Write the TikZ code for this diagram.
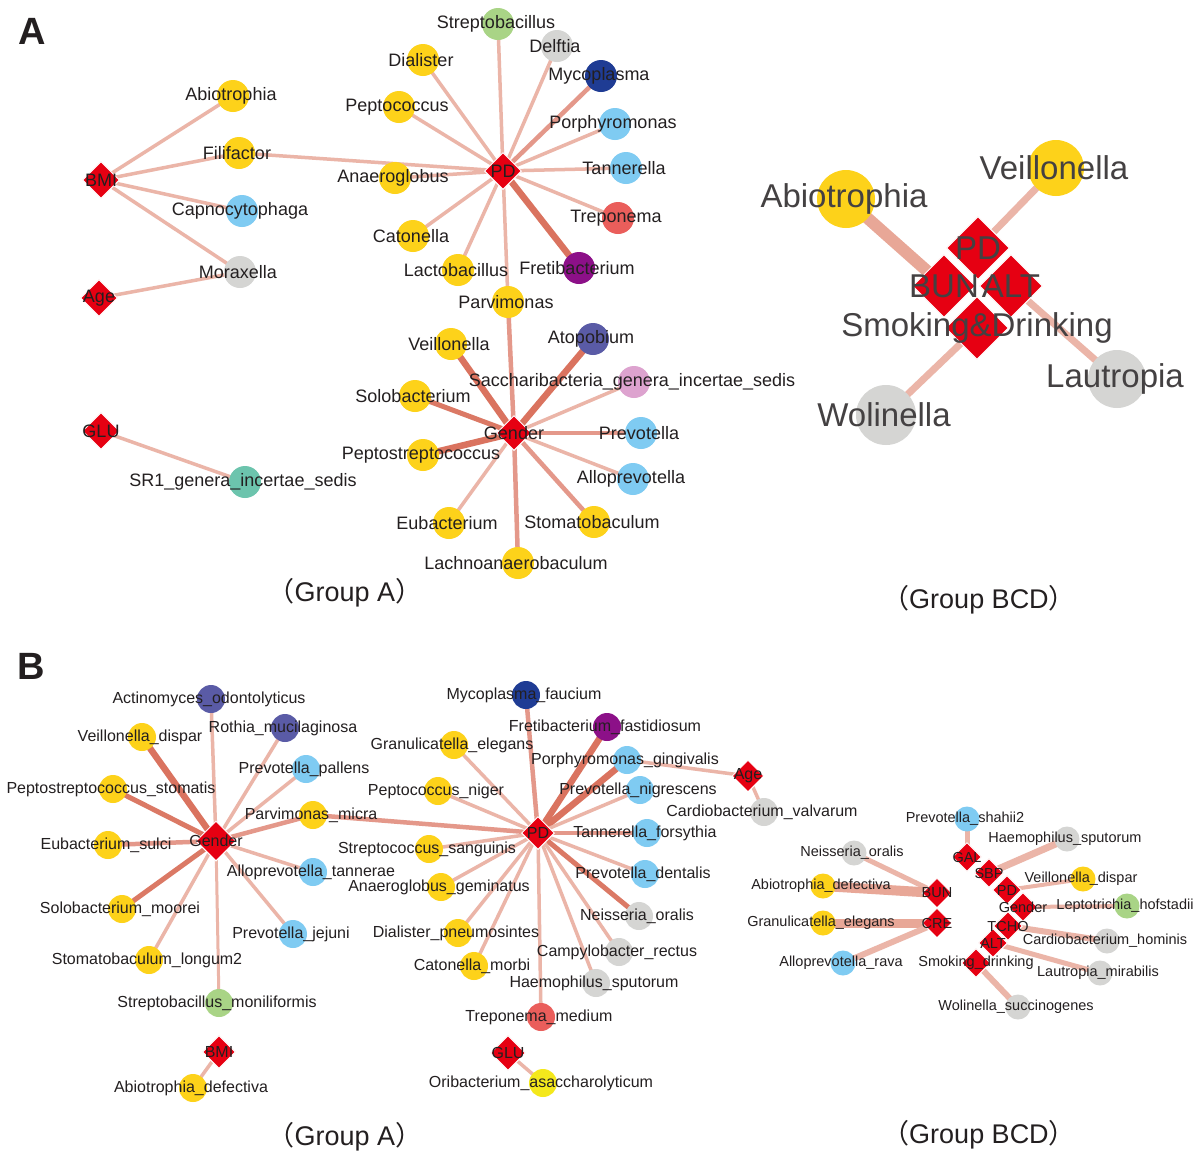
\documentclass[tikz,border=0pt]{standalone}
\usepackage{fontspec}
\setmainfont{Liberation Sans}
\newfontfamily\cjkf{Noto Sans CJK SC}
\usetikzlibrary{shapes.geometric}
\pgfdeclarelayer{paper}\pgfdeclarelayer{bg}\pgfdeclarelayer{fg}\pgfsetlayers{paper,bg,main,fg}
\definecolor{txt}{HTML}{231F20}
\definecolor{dred}{HTML}{E60012}
\definecolor{yel}{HTML}{FDD21A}
\definecolor{blu}{HTML}{7FCBF2}
\definecolor{gry}{HTML}{D5D5D3}
\definecolor{grn}{HTML}{A9D486}
\definecolor{dblu}{HTML}{1F3C94}
\definecolor{slate}{HTML}{5A5BA6}
\definecolor{purp}{HTML}{8C1088}
\definecolor{coral}{HTML}{EA5E5B}
\definecolor{pink}{HTML}{DDA3CF}
\definecolor{teal}{HTML}{6CC4AD}
\definecolor{byel}{HTML}{F4E81C}
\definecolor{eL}{HTML}{EBB5A8}
\definecolor{eM}{HTML}{E4988A}
\definecolor{eD}{HTML}{DA735F}
\definecolor{eR}{HTML}{E8A797}
\tikzset{
  circ/.style={circle,inner sep=0pt,draw=none},
  dia/.style={diamond,inner sep=0pt,fill=dred,draw=white,line width=1pt},
  lA/.style={font=\fontsize{18}{18}\selectfont,text=txt,inner sep=0pt},
  lB/.style={font=\fontsize{16}{16}\selectfont,text=txt,inner sep=0pt},
  lC/.style={font=\fontsize{14.5}{14.5}\selectfont,text=txt,inner sep=0pt},
  lR/.style={font=\fontsize{33}{33}\selectfont,text=txt!85,inner sep=0pt},
  grp/.style={font=\fontsize{27}{27}\selectfont,text=txt,inner sep=0pt},
  panel/.style={font=\fontsize{38}{38}\selectfont\bfseries,text=txt,inner sep=0pt},
  e1/.style={line width=3.5pt,color=eL},
  e2/.style={line width=4.5pt,color=eM},
  e2d/.style={line width=5pt,color=eD!85!eM},
  e3/.style={line width=6.5pt,color=eD},
}
% circle node: name, x, y, diameter, colour, label style, label
\newcommand\mycirc[7]{%
  \node[circ,fill=#5,minimum size=#4pt] (#1) at (#2,#3) {};
  \begin{pgfonlayer}{fg}\node[#6,xshift=-2pt] (#1t) at (#1.center) {#7};\end{pgfonlayer}}
% diamond node: name, x, y, size, label style, label
\newcommand\mydia[6]{%
  \node[dia,minimum size=#4pt] (#1) at (#2,#3) {};
  \begin{pgfonlayer}{fg}\node[#5] (#1t) at (#1.center) {#6};\end{pgfonlayer}}
\newcommand\ed[3]{\draw[#1] (#2.center) -- (#3.center);}
\begin{document}
\begin{tikzpicture}[x=1pt,y=-1pt]
\useasboundingbox (0,0) rectangle (1200,1160);
\begin{pgfonlayer}{paper}
\fill[white] (0,0) rectangle (1200,1160);
\end{pgfonlayer}

\node[panel] (lettA) at (32,31) {A};
\node[panel] (lettB) at (31,666) {B};

% ================= Panel A, Group A =================
\mydia{aBMI}{101}{180}{37}{lA}{BMI}
\mydia{aAge}{99}{298}{37}{lA}{Age}
\mydia{aGLU}{101}{431}{37}{lA}{GLU}
\mydia{aPD}{503}{171}{37}{lA}{PD}
\mydia{aGen}{514}{433}{35}{lA}{Gender}

\mycirc{aAbio}{233}{96}{32}{yel}{lA}{Abiotrophia}
\mycirc{aFili}{239}{153}{32}{yel}{lA}{Filifactor}
\mycirc{aCapno}{242}{211}{32}{blu}{lA}{Capnocytophaga}
\mycirc{aMorax}{240}{272}{32}{gry}{lA}{Moraxella}
\mycirc{aSR}{245}{482}{32}{teal}{lA}{SR1\_genera\_incertae\_sedis}
\mycirc{aStrep}{498}{24}{32}{grn}{lA}{Streptobacillus}
\mycirc{aDelf}{557}{46}{32}{gry}{lA}{Delftia}
\mycirc{aDial}{423}{60}{32}{yel}{lA}{Dialister}
\mycirc{aMyco}{601}{76}{32}{dblu}{lA}{Mycoplasma}
\mycirc{aPepto}{399}{107}{32}{yel}{lA}{Peptococcus}
\mycirc{aPorph}{615}{124}{32}{blu}{lA}{Porphyromonas}
\mycirc{aAnae}{395}{178}{32}{yel}{lA}{Anaeroglobus}
\mycirc{aTann}{626}{168}{32}{blu}{lA}{Tannerella}
\mycirc{aTrep}{618}{218}{32}{coral}{lA}{Treponema}
\mycirc{aCaton}{413}{236}{32}{yel}{lA}{Catonella}
\mycirc{aLacto}{458}{270}{32}{yel}{lA}{Lactobacillus}
\mycirc{aFreti}{579}{268}{32}{purp}{lA}{Fretibacterium}
\mycirc{aParvi}{508}{302}{32}{yel}{lA}{Parvimonas}
\mycirc{aVeil}{451}{344}{32}{yel}{lA}{Veillonella}
\mycirc{aAtop}{593}{339}{32}{slate}{lA}{Atopobium}
\mycirc{aSacc}{634}{382}{32}{pink}{lA}{Saccharibacteria\_genera\_incertae\_sedis}
\mycirc{aSolo}{415}{396}{32}{yel}{lA}{Solobacterium}
\mycirc{aPrev}{641}{433}{32}{blu}{lA}{Prevotella}
\mycirc{aPstr}{423}{455}{32}{yel}{lA}{Peptostreptococcus}
\mycirc{aAllo}{633}{479}{32}{blu}{lA}{Alloprevotella}
\mycirc{aEub}{449}{523}{32}{yel}{lA}{Eubacterium}
\mycirc{aStom}{594}{522}{32}{yel}{lA}{Stomatobaculum}
\mycirc{aLach}{518}{563}{32}{yel}{lA}{Lachnoanaerobaculum}

\begin{pgfonlayer}{bg}
\ed{e1}{aBMI}{aAbio}\ed{e1}{aBMI}{aFili}\ed{e1}{aBMI}{aCapno}\ed{e1}{aBMI}{aMorax}
\ed{e1}{aAge}{aMorax}\ed{e1}{aGLU}{aSR}\ed{e1}{aFili}{aPD}
\ed{e1}{aPD}{aStrep}\ed{e1}{aPD}{aDelf}\ed{e1}{aPD}{aDial}\ed{e2}{aPD}{aMyco}
\ed{e1}{aPD}{aPepto}\ed{e1}{aPD}{aPorph}\ed{e1}{aPD}{aAnae}\ed{e1}{aPD}{aTann}
\ed{e1}{aPD}{aTrep}\ed{e1}{aPD}{aCaton}\ed{e1}{aPD}{aLacto}\ed{e3}{aPD}{aFreti}
\ed{e1}{aPD}{aParvi}
\ed{e2}{aGen}{aParvi}\ed{e3}{aGen}{aVeil}\ed{e3}{aGen}{aAtop}\ed{e1}{aGen}{aSacc}
\ed{e2d}{aGen}{aSolo}\ed{e2}{aGen}{aPrev}\ed{e3}{aGen}{aPstr}\ed{e1}{aGen}{aAllo}
\ed{e1}{aGen}{aEub}\ed{e2}{aGen}{aStom}\ed{e2}{aGen}{aLach}
\end{pgfonlayer}

\node[grp] (gA1) at (345,593) {{\cjkf （}Group A{\cjkf ）}};

% ================= Panel A, Group BCD =================
\mycirc{rAbio}{846}{199}{58}{yel}{lR}{Abiotrophia}
\mycirc{rVeil}{1056}{168}{56}{yel}{lR}{Veillonella}
\mycirc{rLaut}{1117}{379}{58}{gry}{lR}{Lautropia}
\mycirc{rWol}{886}{415}{60}{gry}{lR}{Wolinella}
\mydia{rSD}{977}{328}{63}{lR}{}
\mydia{rBUN}{944}{286}{63}{lR}{}
\mydia{rALT}{1011}{286}{63}{lR}{}
\mydia{rPD}{978}{248}{63}{lR}{PD}
\begin{pgfonlayer}{fg}
\node[lR] (rBUNl) at (rBUN.center) {BUN};
\node[lR] (rALTl) at (rALT.center) {ALT};
\node[lR] (rSDl) at (rSD.center) {Smoking\&Drinking};
\end{pgfonlayer}
\begin{pgfonlayer}{bg}
\draw[line width=12pt,color=eR] (rAbio.center) -- (rBUN.center);
\draw[line width=7pt,color=eL] (rVeil.center) -- (rPD.center);
\draw[line width=7pt,color=eL] (rLaut.center) -- (rALT.center);
\draw[line width=7pt,color=eL] (rWol.center) -- (rSD.center);
\end{pgfonlayer}
\node[grp] (gBCD1) at (979,600) {{\cjkf （}Group BCD{\cjkf ）}};

% ================= Panel B, Group A =================
\mydia{bGen}{216}{841}{40}{lB}{Gender}
\mydia{bBMI}{219}{1052}{33}{lB}{BMI}
\mydia{bPD}{538}{833}{33}{lB}{PD}
\mydia{bAge}{748}{776}{32}{lB}{Age}
\mydia{bGLU}{508}{1053}{35}{lB}{GLU}

\mycirc{bActi}{211}{699}{28}{slate}{lB}{Actinomyces\_odontolyticus}
\mycirc{bRoth}{285}{728}{28}{slate}{lB}{Rothia\_mucilaginosa}
\mycirc{bVeilD}{142}{737}{28}{yel}{lB}{Veillonella\_dispar}
\mycirc{bPrevP}{306}{769}{28}{blu}{lB}{Prevotella\_pallens}
\mycirc{bPstS}{113}{789}{28}{yel}{lB}{Peptostreptococcus\_stomatis}
\mycirc{bParM}{313}{815}{28}{yel}{lB}{Parvimonas\_micra}
\mycirc{bEubS}{108}{845}{28}{yel}{lB}{Eubacterium\_sulci}
\mycirc{bAllT}{313}{872}{28}{blu}{lB}{Alloprevotella\_tannerae}
\mycirc{bSolM}{122}{909}{28}{yel}{lB}{Solobacterium\_moorei}
\mycirc{bPrevJ}{293}{934}{28}{blu}{lB}{Prevotella\_jejuni}
\mycirc{bStomL}{149}{960}{28}{yel}{lB}{Stomatobaculum\_longum2}
\mycirc{bStrM}{219}{1003}{28}{grn}{lB}{Streptobacillus\_moniliformis}
\mycirc{bAbioD}{193}{1088}{28}{yel}{lB}{Abiotrophia\_defectiva}

\mycirc{bMycF}{526}{695}{28}{dblu}{lB}{Mycoplasma\_faucium}
\mycirc{bFreF}{607}{727}{28}{purp}{lB}{Fretibacterium\_fastidiosum}
\mycirc{bGraE}{454}{745}{28}{yel}{lB}{Granulicatella\_elegans}
\mycirc{bPorG}{627}{760}{28}{blu}{lB}{Porphyromonas\_gingivalis}
\mycirc{bPepN}{438}{791}{28}{yel}{lB}{Peptococcus\_niger}
\mycirc{bPreN}{640}{790}{28}{blu}{lB}{Prevotella\_nigrescens}
\mycirc{bCarV}{764}{812}{28}{gry}{lB}{Cardiobacterium\_valvarum}
\mycirc{bTanF}{647}{833}{28}{blu}{lB}{Tannerella\_forsythia}
\mycirc{bStrS}{429}{849}{28}{yel}{lB}{Streptococcus\_sanguinis}
\mycirc{bAnaG}{441}{887}{28}{yel}{lB}{Anaeroglobus\_geminatus}
\mycirc{bPreD}{645}{874}{28}{blu}{lB}{Prevotella\_dentalis}
\mycirc{bNeiO}{639}{916}{28}{gry}{lB}{Neisseria\_oralis}
\mycirc{bDiaP}{458}{933}{28}{yel}{lB}{Dialister\_pneumosintes}
\mycirc{bCamR}{619}{952}{28}{gry}{lB}{Campylobacter\_rectus}
\mycirc{bCatM}{474}{966}{28}{yel}{lB}{Catonella\_morbi}
\mycirc{bHaeS}{596}{983}{28}{gry}{lB}{Haemophilus\_sputorum}
\mycirc{bTreM}{541}{1017}{28}{coral}{lB}{Treponema\_medium}
\mycirc{bOriA}{543}{1083}{28}{byel}{lB}{Oribacterium\_asaccharolyticum}

\begin{pgfonlayer}{bg}
\ed{e1}{bGen}{bActi}\ed{e1}{bGen}{bRoth}\ed{e3}{bGen}{bVeilD}\ed{e1}{bGen}{bPrevP}
\ed{e2d}{bGen}{bPstS}\ed{e2}{bGen}{bParM}\ed{e2}{bGen}{bEubS}\ed{e1}{bGen}{bAllT}
\ed{e2d}{bGen}{bSolM}\ed{e1}{bGen}{bPrevJ}\ed{e1}{bGen}{bStomL}
\draw[line width=3pt,color=eL] (bGen.center) -- (bStrM.center);
\ed{e1}{bBMI}{bAbioD}
\ed{e2}{bPD}{bParM}
\ed{e2}{bPD}{bMycF}\ed{e3}{bPD}{bFreF}\ed{e1}{bPD}{bGraE}\ed{e3}{bPD}{bPorG}
\ed{e1}{bPD}{bPepN}\ed{e1}{bPD}{bPreN}\ed{e2}{bPD}{bTanF}\ed{e1}{bPD}{bStrS}
\ed{e1}{bPD}{bAnaG}\ed{e1}{bPD}{bPreD}\ed{e2d}{bPD}{bNeiO}\ed{e1}{bPD}{bDiaP}
\ed{e1}{bPD}{bCamR}\ed{e1}{bPD}{bCatM}\ed{e1}{bPD}{bHaeS}\ed{e1}{bPD}{bTreM}
\ed{e1}{bAge}{bPorG}\ed{e1}{bAge}{bCarV}\ed{e1}{bGLU}{bOriA}
\end{pgfonlayer}
\node[grp] (gA2) at (345,1137) {{\cjkf （}Group A{\cjkf ）}};

% ================= Panel B, Group BCD =================
\mycirc{cPrevS}{967}{819}{25}{blu}{lC}{Prevotella\_shahii2}
\mycirc{cHaeS}{1067}{839}{25}{gry}{lC}{Haemophilus\_sputorum}
\mycirc{cNeiO}{854}{853}{25}{gry}{lC}{Neisseria\_oralis}
\mycirc{cVeiD}{1083}{879}{25}{yel}{lC}{Veillonella\_dispar}
\mycirc{cAbiD}{823}{886}{25}{yel}{lC}{Abiotrophia\_defectiva}
\mycirc{cLep}{1127}{906}{25}{grn}{lC}{Leptotrichia\_hofstadii}
\mycirc{cGraE}{823}{923}{25}{yel}{lC}{Granulicatella\_elegans}
\mycirc{cCarH}{1107}{941}{25}{gry}{lC}{Cardiobacterium\_hominis}
\mycirc{cAllR}{843}{963}{25}{blu}{lC}{Alloprevotella\_rava}
\mycirc{cLauM}{1100}{973}{25}{gry}{lC}{Lautropia\_mirabilis}
\mycirc{cWolS}{1018}{1007}{25}{gry}{lC}{Wolinella\_succinogenes}
\mydia{cGAL}{967}{857}{29}{lC}{GAL}
\mydia{cSBP}{989}{873}{29}{lC}{SBP}
\mydia{cBUN}{937}{893}{30}{lC}{BUN}
\mydia{cPD}{1007}{890}{29}{lC}{PD}
\mydia{cGen}{1023}{907}{29}{lC}{Gender}
\mydia{cCRE}{937}{923}{30}{lC}{CRE}
\mydia{cTCHO}{1008}{926}{29}{lC}{TCHO}
\mydia{cALT}{993}{943}{29}{lC}{ALT}
\mydia{cSmD}{976}{963}{29}{lC}{Smoking\_drinking}
\begin{pgfonlayer}{bg}
\draw[line width=5pt,color=eL] (cGAL.center) -- (cPrevS.center);
\draw[line width=7pt,color=eL] (cSBP.center) -- (cHaeS.center);
\draw[line width=5pt,color=eL] (cBUN.center) -- (cNeiO.center);
\draw[line width=10pt,color=eR] (cBUN.center) -- (cAbiD.center);
\draw[line width=9pt,color=eR] (cCRE.center) -- (cGraE.center);
\draw[line width=6pt,color=eL] (cCRE.center) -- (cAllR.center);
\draw[line width=4pt,color=eL] (cPD.center) -- (cVeiD.center);
\draw[line width=4pt,color=eL] (cGen.center) -- (cLep.center);
\draw[line width=6pt,color=eL] (cTCHO.center) -- (cCarH.center);
\draw[line width=5pt,color=eL] (cALT.center) -- (cLauM.center);
\draw[line width=6pt,color=eL] (cSmD.center) -- (cWolS.center);
\end{pgfonlayer}
\node[grp] (gBCD2) at (979,1135) {{\cjkf （}Group BCD{\cjkf ）}};
\end{tikzpicture}
\end{document}
